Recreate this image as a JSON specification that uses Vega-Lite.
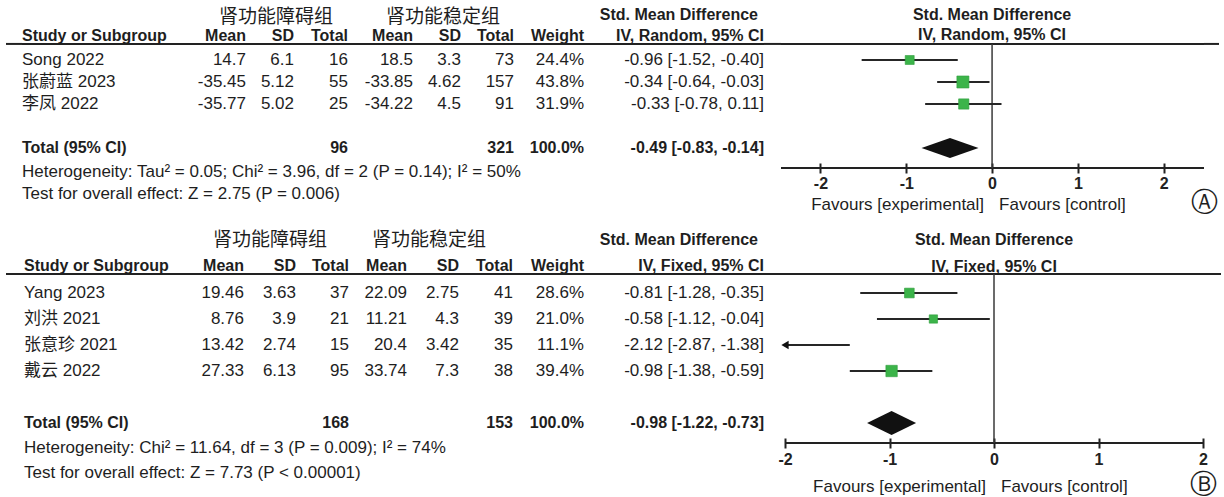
{
"$schema": "https://vega.github.io/schema/vega-lite/v6.json",
"padding": {"left": 5, "top": 0, "right": 0, "bottom": 0},
"background": "white",
"datasets": {
 "A": [
  {"row": 1, "study": "Song 2022", "m1": 14.7, "sd1": 6.1, "n1": 16, "m2": 18.5, "sd2": 3.3, "n2": 73, "w": 0.244, "ci": "-0.96 [-1.52, -0.40]", "smd": -0.96, "lo": -1.52, "hi": -0.40, "total": false},
  {"row": 2, "study": "张蔚蓝 2023", "m1": -35.45, "sd1": 5.12, "n1": 55, "m2": -33.85, "sd2": 4.62, "n2": 157, "w": 0.438, "ci": "-0.34 [-0.64, -0.03]", "smd": -0.34, "lo": -0.64, "hi": -0.03, "total": false},
  {"row": 3, "study": "李凤 2022", "m1": -35.77, "sd1": 5.02, "n1": 25, "m2": -34.22, "sd2": 4.5, "n2": 91, "w": 0.319, "ci": "-0.33 [-0.78, 0.11]", "smd": -0.33, "lo": -0.78, "hi": 0.11, "total": false},
  {"row": 5, "study": "Total (95% CI)", "n1": 96, "n2": 321, "w": 1.0, "ci": "-0.49 [-0.83, -0.14]", "smd": -0.49, "lo": -0.83, "hi": -0.14, "total": true}
 ],
 "B": [
  {"row": 1, "study": "Yang 2023", "m1": 19.46, "sd1": 3.63, "n1": 37, "m2": 22.09, "sd2": 2.75, "n2": 41, "w": 0.286, "ci": "-0.81 [-1.28, -0.35]", "smd": -0.81, "lo": -1.28, "hi": -0.35, "total": false},
  {"row": 2, "study": "刘洪 2021", "m1": 8.76, "sd1": 3.9, "n1": 21, "m2": 11.21, "sd2": 4.3, "n2": 39, "w": 0.21, "ci": "-0.58 [-1.12, -0.04]", "smd": -0.58, "lo": -1.12, "hi": -0.04, "total": false},
  {"row": 3, "study": "张意珍 2021", "m1": 13.42, "sd1": 2.74, "n1": 15, "m2": 20.4, "sd2": 3.42, "n2": 35, "w": 0.111, "ci": "-2.12 [-2.87, -1.38]", "smd": -2.12, "lo": -2.87, "hi": -1.38, "total": false},
  {"row": 4, "study": "戴云 2022", "m1": 27.33, "sd1": 6.13, "n1": 95, "m2": 33.74, "sd2": 7.3, "n2": 38, "w": 0.394, "ci": "-0.98 [-1.38, -0.59]", "smd": -0.98, "lo": -1.38, "hi": -0.59, "total": false},
  {"row": 6, "study": "Total (95% CI)", "n1": 168, "n2": 153, "w": 1.0, "ci": "-0.98 [-1.22, -0.73]", "smd": -0.98, "lo": -1.22, "hi": -0.73, "total": true}
 ]
},
"vconcat": [
 {"hconcat": [
  {"width": 16, "height": 222, "data": {"values": [{}]}, "mark": "rule", "encoding": {"y": {"datum": 0.27, "scale": {"domain": [-1.727, 8.364], "reverse": true, "nice": false, "zero": false}, "axis": null}}},
  {"width": 179, "height": 222, "data": {"name": "A"},
   "encoding": {"y": {"field": "row", "type": "quantitative", "scale": {"domain": [-1.727, 8.364], "reverse": true, "nice": false, "zero": false}, "axis": null}},
   "layer": [
    {"transform": [{"filter": "datum.row == 1"}], "mark": "rule", "encoding": {"y": {"datum": 0.27}}},
    {"transform": [{"filter": "datum.row == 1"}], "mark": {"type": "text", "align": "left", "fontWeight": "bold", "fontSize": 16}, "encoding": {"x": {"value": 0}, "y": {"datum": -0.1}, "text": {"value": "Study or Subgroup"}}},
    {"transform": [{"filter": "!datum.total"}], "mark": {"type": "text", "align": "left"}, "encoding": {"x": {"value": 0}, "text": {"field": "study", "type": "nominal"}}},
    {"transform": [{"filter": "datum.total"}], "mark": {"type": "text", "align": "left", "fontWeight": "bold", "fontSize": 16}, "encoding": {"x": {"value": 0}, "text": {"field": "study", "type": "nominal"}}},
    {"transform": [{"filter": "datum.row == 1"}], "mark": {"type": "text", "align": "left"}, "encoding": {"x": {"value": 0}, "y": {"datum": 6.09}, "text": {"value": "Heterogeneity: Tau² = 0.05; Chi² = 3.96, df = 2 (P = 0.14); I² = 50%"}}},
    {"transform": [{"filter": "datum.row == 1"}], "mark": {"type": "text", "align": "left"}, "encoding": {"x": {"value": 0}, "y": {"datum": 7.09}, "text": {"value": "Test for overall effect: Z = 2.75 (P = 0.006)"}}}
   ]},
  {"width": 45, "height": 222, "data": {"name": "A"},
   "encoding": {"y": {"field": "row", "type": "quantitative", "scale": {"domain": [-1.727, 8.364], "reverse": true, "nice": false, "zero": false}, "axis": null}},
   "layer": [
    {"transform": [{"filter": "datum.row == 1"}], "mark": "rule", "encoding": {"y": {"datum": 0.27}}},
    {"transform": [{"filter": "datum.row == 1"}], "mark": {"type": "text", "align": "right", "fontWeight": "bold", "fontSize": 16}, "encoding": {"x": {"value": "width"}, "y": {"datum": -0.1}, "text": {"value": "Mean"}}},
    {"transform": [{"filter": "!datum.total"}], "mark": {"type": "text", "align": "right"}, "encoding": {"x": {"value": "width"}, "text": {"field": "m1", "type": "nominal"}}}
   ]},
  {"width": 48, "height": 222, "data": {"name": "A"},
   "encoding": {"y": {"field": "row", "type": "quantitative", "scale": {"domain": [-1.727, 8.364], "reverse": true, "nice": false, "zero": false}, "axis": null}},
   "layer": [
    {"transform": [{"filter": "datum.row == 1"}], "mark": "rule", "encoding": {"y": {"datum": 0.27}}},
    {"transform": [{"filter": "datum.row == 1"}], "mark": {"type": "text", "fontSize": 19, "dx": 6}, "encoding": {"y": {"datum": -0.95}, "text": {"value": "肾功能障碍组"}}},
    {"transform": [{"filter": "datum.row == 1"}], "mark": {"type": "text", "align": "right", "fontWeight": "bold", "fontSize": 16}, "encoding": {"x": {"value": "width"}, "y": {"datum": -0.1}, "text": {"value": "SD"}}},
    {"transform": [{"filter": "!datum.total"}], "mark": {"type": "text", "align": "right"}, "encoding": {"x": {"value": "width"}, "text": {"field": "sd1", "type": "nominal"}}}
   ]},
  {"width": 54, "height": 222, "data": {"name": "A"},
   "encoding": {"y": {"field": "row", "type": "quantitative", "scale": {"domain": [-1.727, 8.364], "reverse": true, "nice": false, "zero": false}, "axis": null}},
   "layer": [
    {"transform": [{"filter": "datum.row == 1"}], "mark": "rule", "encoding": {"y": {"datum": 0.27}}},
    {"transform": [{"filter": "datum.row == 1"}], "mark": {"type": "text", "align": "right", "fontWeight": "bold", "fontSize": 16}, "encoding": {"x": {"value": "width"}, "y": {"datum": -0.1}, "text": {"value": "Total"}}},
    {"transform": [{"filter": "!datum.total"}], "mark": {"type": "text", "align": "right"}, "encoding": {"x": {"value": "width"}, "text": {"field": "n1", "type": "nominal"}}},
    {"transform": [{"filter": "datum.total"}], "mark": {"type": "text", "align": "right", "fontWeight": "bold", "fontSize": 16}, "encoding": {"x": {"value": "width"}, "text": {"field": "n1", "type": "nominal"}}}
   ]},
  {"width": 65, "height": 222, "data": {"name": "A"},
   "encoding": {"y": {"field": "row", "type": "quantitative", "scale": {"domain": [-1.727, 8.364], "reverse": true, "nice": false, "zero": false}, "axis": null}},
   "layer": [
    {"transform": [{"filter": "datum.row == 1"}], "mark": "rule", "encoding": {"y": {"datum": 0.27}}},
    {"transform": [{"filter": "datum.row == 1"}], "mark": {"type": "text", "align": "right", "fontWeight": "bold", "fontSize": 16}, "encoding": {"x": {"value": "width"}, "y": {"datum": -0.1}, "text": {"value": "Mean"}}},
    {"transform": [{"filter": "!datum.total"}], "mark": {"type": "text", "align": "right"}, "encoding": {"x": {"value": "width"}, "text": {"field": "m2", "type": "nominal"}}}
   ]},
  {"width": 48, "height": 222, "data": {"name": "A"},
   "encoding": {"y": {"field": "row", "type": "quantitative", "scale": {"domain": [-1.727, 8.364], "reverse": true, "nice": false, "zero": false}, "axis": null}},
   "layer": [
    {"transform": [{"filter": "datum.row == 1"}], "mark": "rule", "encoding": {"y": {"datum": 0.27}}},
    {"transform": [{"filter": "datum.row == 1"}], "mark": {"type": "text", "fontSize": 19, "dx": 6}, "encoding": {"y": {"datum": -0.95}, "text": {"value": "肾功能稳定组"}}},
    {"transform": [{"filter": "datum.row == 1"}], "mark": {"type": "text", "align": "right", "fontWeight": "bold", "fontSize": 16}, "encoding": {"x": {"value": "width"}, "y": {"datum": -0.1}, "text": {"value": "SD"}}},
    {"transform": [{"filter": "!datum.total"}], "mark": {"type": "text", "align": "right"}, "encoding": {"x": {"value": "width"}, "text": {"field": "sd2", "type": "nominal"}}}
   ]},
  {"width": 53, "height": 222, "data": {"name": "A"},
   "encoding": {"y": {"field": "row", "type": "quantitative", "scale": {"domain": [-1.727, 8.364], "reverse": true, "nice": false, "zero": false}, "axis": null}},
   "layer": [
    {"transform": [{"filter": "datum.row == 1"}], "mark": "rule", "encoding": {"y": {"datum": 0.27}}},
    {"transform": [{"filter": "datum.row == 1"}], "mark": {"type": "text", "align": "right", "fontWeight": "bold", "fontSize": 16}, "encoding": {"x": {"value": "width"}, "y": {"datum": -0.1}, "text": {"value": "Total"}}},
    {"transform": [{"filter": "!datum.total"}], "mark": {"type": "text", "align": "right"}, "encoding": {"x": {"value": "width"}, "text": {"field": "n2", "type": "nominal"}}},
    {"transform": [{"filter": "datum.total"}], "mark": {"type": "text", "align": "right", "fontWeight": "bold", "fontSize": 16}, "encoding": {"x": {"value": "width"}, "text": {"field": "n2", "type": "nominal"}}}
   ]},
  {"width": 70, "height": 222, "data": {"name": "A"},
   "encoding": {"y": {"field": "row", "type": "quantitative", "scale": {"domain": [-1.727, 8.364], "reverse": true, "nice": false, "zero": false}, "axis": null}},
   "layer": [
    {"transform": [{"filter": "datum.row == 1"}], "mark": "rule", "encoding": {"y": {"datum": 0.27}}},
    {"transform": [{"filter": "datum.row == 1"}], "mark": {"type": "text", "align": "right", "fontWeight": "bold", "fontSize": 16}, "encoding": {"x": {"value": "width"}, "y": {"datum": -0.1}, "text": {"value": "Weight"}}},
    {"transform": [{"filter": "!datum.total"}], "mark": {"type": "text", "align": "right"}, "encoding": {"x": {"value": "width"}, "text": {"field": "w", "type": "quantitative", "format": ".1%"}}},
    {"transform": [{"filter": "datum.total"}], "mark": {"type": "text", "align": "right", "fontWeight": "bold", "fontSize": 16}, "encoding": {"x": {"value": "width"}, "text": {"field": "w", "type": "quantitative", "format": ".1%"}}}
   ]},
  {"width": 180, "height": 222, "data": {"name": "A"},
   "encoding": {"y": {"field": "row", "type": "quantitative", "scale": {"domain": [-1.727, 8.364], "reverse": true, "nice": false, "zero": false}, "axis": null}},
   "layer": [
    {"transform": [{"filter": "datum.row == 1"}], "mark": "rule", "encoding": {"y": {"datum": 0.27}}},
    {"transform": [{"filter": "datum.row == 1"}], "mark": {"type": "text", "align": "right", "fontWeight": "bold", "fontSize": 16, "dx": -6}, "encoding": {"x": {"value": "width"}, "y": {"datum": -1.05}, "text": {"value": "Std. Mean Difference"}}},
    {"transform": [{"filter": "datum.row == 1"}], "mark": {"type": "text", "align": "right", "fontWeight": "bold", "fontSize": 16}, "encoding": {"x": {"value": "width"}, "y": {"datum": -0.1}, "text": {"value": "IV, Random, 95% CI"}}},
    {"transform": [{"filter": "!datum.total"}], "mark": {"type": "text", "align": "right"}, "encoding": {"x": {"value": "width"}, "text": {"field": "ci", "type": "nominal"}}},
    {"transform": [{"filter": "datum.total"}], "mark": {"type": "text", "align": "right", "fontWeight": "bold", "fontSize": 16}, "encoding": {"x": {"value": "width"}, "text": {"field": "ci", "type": "nominal"}}}
   ]},
  {"width": 17, "height": 222, "data": {"values": [{}]}, "mark": "rule", "encoding": {"y": {"datum": 0.27, "scale": {"domain": [-1.727, 8.364], "reverse": true, "nice": false, "zero": false}, "axis": null}}},
  {"width": 423, "height": 163, "data": {"name": "A"},
   "encoding": {"y": {"field": "row", "type": "quantitative", "scale": {"domain": [-1.727, 5.682], "reverse": true, "nice": false, "zero": false}, "axis": null}},
   "layer": [
    {"transform": [{"filter": "datum.row == 1"}], "mark": "rule", "encoding": {"y": {"datum": 0.27}}},
    {"transform": [{"filter": "datum.row == 1"}], "mark": "rule", "encoding": {"y": {"datum": 5.909}}},
    {"transform": [{"filter": "datum.row == 1"}], "mark": {"type": "rule", "strokeWidth": 1.5, "color": "#3a3a3a"}, "encoding": {"x": {"datum": 0, "type": "quantitative", "title": null}, "y": {"datum": 0.27}, "y2": {"datum": 5.909}}},
    {"transform": [{"filter": "!datum.total"}], "mark": {"type": "rule", "strokeWidth": 2, "color": "#262626"},
     "encoding": {"x": {"field": "lo", "type": "quantitative", "title": null, "scale": {"domain": [-2.46, 2.47], "nice": false, "zero": false},
       "axis": {"values": [-2, -1, 0, 1, 2], "labelExpr": "datum.value", "title": null, "grid": false, "domain": false, "tickSize": 10, "tickWidth": 2, "tickColor": "#222", "labelFontSize": 16, "labelFont": "Liberation Sans", "labelFontWeight": "bold", "labelColor": "#222", "labelPadding": 2, "labelFlush": false, "labelOverlap": false}},
      "x2": {"field": "hi"}}},
    {"transform": [{"filter": "!datum.total"}], "mark": {"type": "square", "filled": true, "color": "#3cb44a", "stroke": "#2f9e3d", "strokeWidth": 0.6, "opacity": 1},
     "encoding": {"x": {"field": "smd", "type": "quantitative", "title": null}, "size": {"field": "w", "type": "quantitative", "scale": {"domain": [0, 0.5], "range": [0, 165]}, "legend": null}}},
    {"transform": [{"filter": "datum.total"}], "mark": {"type": "point", "shape": "M-1,0L0,-0.35L1,0L0,0.35Z", "size": 3249, "filled": true, "color": "#111111", "opacity": 1},
     "encoding": {"x": {"field": "smd", "type": "quantitative", "title": null}}},
    {"transform": [{"filter": "datum.row == 1"}], "mark": {"type": "text", "fontWeight": "bold", "fontSize": 16}, "encoding": {"x": {"datum": 0}, "y": {"datum": -1.05}, "text": {"value": "Std. Mean Difference"}}},
    {"transform": [{"filter": "datum.row == 1"}], "mark": {"type": "text", "fontWeight": "bold", "fontSize": 16}, "encoding": {"x": {"datum": 0}, "y": {"datum": -0.14}, "text": {"value": "IV, Random, 95% CI"}}},
    {"transform": [{"filter": "datum.row == 1"}], "mark": {"type": "text", "align": "right", "dx": -8}, "encoding": {"x": {"datum": 0}, "y": {"datum": 7.59}, "text": {"value": "Favours [experimental]"}}},
    {"transform": [{"filter": "datum.row == 1"}], "mark": {"type": "text", "align": "left", "dx": 7}, "encoding": {"x": {"datum": 0}, "y": {"datum": 7.59}, "text": {"value": "Favours [control]"}}},
    {"transform": [{"filter": "datum.row == 1"}], "mark": {"type": "text", "font": "DejaVu Sans", "fontSize": 27}, "encoding": {"x": {"datum": 2.47}, "y": {"datum": 7.5}, "text": {"value": "Ⓐ"}}}
   ]},
  {"width": 15, "height": 222, "data": {"values": [{}]}, "mark": "rule", "encoding": {"y": {"datum": 0.27, "scale": {"domain": [-1.727, 8.364], "reverse": true, "nice": false, "zero": false}, "axis": null}}}
 ], "spacing": 0, "bounds": "flush"},
 {"hconcat": [
  {"width": 18, "height": 275, "data": {"values": [{}]}, "mark": "rule", "encoding": {"y": {"datum": 0.27, "scale": {"domain": [-1.731, 8.846], "reverse": true, "nice": false, "zero": false}, "axis": null}}},
  {"width": 177, "height": 275, "data": {"name": "B"},
   "encoding": {"y": {"field": "row", "type": "quantitative", "scale": {"domain": [-1.731, 8.846], "reverse": true, "nice": false, "zero": false}, "axis": null}},
   "layer": [
    {"transform": [{"filter": "datum.row == 1"}], "mark": "rule", "encoding": {"y": {"datum": 0.27}}},
    {"transform": [{"filter": "datum.row == 1"}], "mark": {"type": "text", "align": "left", "fontWeight": "bold", "fontSize": 16}, "encoding": {"x": {"value": 0}, "y": {"datum": -0.02}, "text": {"value": "Study or Subgroup"}}},
    {"transform": [{"filter": "!datum.total"}], "mark": {"type": "text", "align": "left"}, "encoding": {"x": {"value": 0}, "text": {"field": "study", "type": "nominal"}}},
    {"transform": [{"filter": "datum.total"}], "mark": {"type": "text", "align": "left", "fontWeight": "bold", "fontSize": 16}, "encoding": {"x": {"value": 0}, "text": {"field": "study", "type": "nominal"}}},
    {"transform": [{"filter": "datum.row == 1"}], "mark": {"type": "text", "align": "left"}, "encoding": {"x": {"value": 0}, "y": {"datum": 6.96}, "text": {"value": "Heterogeneity: Chi² = 11.64, df = 3 (P = 0.009); I² = 74%"}}},
    {"transform": [{"filter": "datum.row == 1"}], "mark": {"type": "text", "align": "left"}, "encoding": {"x": {"value": 0}, "y": {"datum": 7.92}, "text": {"value": "Test for overall effect: Z = 7.73 (P < 0.00001)"}}}
   ]},
  {"width": 43, "height": 275, "data": {"name": "B"},
   "encoding": {"y": {"field": "row", "type": "quantitative", "scale": {"domain": [-1.731, 8.846], "reverse": true, "nice": false, "zero": false}, "axis": null}},
   "layer": [
    {"transform": [{"filter": "datum.row == 1"}], "mark": "rule", "encoding": {"y": {"datum": 0.27}}},
    {"transform": [{"filter": "datum.row == 1"}], "mark": {"type": "text", "align": "right", "fontWeight": "bold", "fontSize": 16}, "encoding": {"x": {"value": "width"}, "y": {"datum": -0.02}, "text": {"value": "Mean"}}},
    {"transform": [{"filter": "!datum.total"}], "mark": {"type": "text", "align": "right"}, "encoding": {"x": {"value": "width"}, "text": {"field": "m1", "type": "nominal"}}}
   ]},
  {"width": 52, "height": 275, "data": {"name": "B"},
   "encoding": {"y": {"field": "row", "type": "quantitative", "scale": {"domain": [-1.731, 8.846], "reverse": true, "nice": false, "zero": false}, "axis": null}},
   "layer": [
    {"transform": [{"filter": "datum.row == 1"}], "mark": "rule", "encoding": {"y": {"datum": 0.27}}},
    {"transform": [{"filter": "datum.row == 1"}], "mark": {"type": "text", "fontSize": 19}, "encoding": {"y": {"datum": -1.04}, "text": {"value": "肾功能障碍组"}}},
    {"transform": [{"filter": "datum.row == 1"}], "mark": {"type": "text", "align": "right", "fontWeight": "bold", "fontSize": 16}, "encoding": {"x": {"value": "width"}, "y": {"datum": -0.02}, "text": {"value": "SD"}}},
    {"transform": [{"filter": "!datum.total"}], "mark": {"type": "text", "align": "right"}, "encoding": {"x": {"value": "width"}, "text": {"field": "sd1", "type": "nominal"}}}
   ]},
  {"width": 53, "height": 275, "data": {"name": "B"},
   "encoding": {"y": {"field": "row", "type": "quantitative", "scale": {"domain": [-1.731, 8.846], "reverse": true, "nice": false, "zero": false}, "axis": null}},
   "layer": [
    {"transform": [{"filter": "datum.row == 1"}], "mark": "rule", "encoding": {"y": {"datum": 0.27}}},
    {"transform": [{"filter": "datum.row == 1"}], "mark": {"type": "text", "align": "right", "fontWeight": "bold", "fontSize": 16}, "encoding": {"x": {"value": "width"}, "y": {"datum": -0.02}, "text": {"value": "Total"}}},
    {"transform": [{"filter": "!datum.total"}], "mark": {"type": "text", "align": "right"}, "encoding": {"x": {"value": "width"}, "text": {"field": "n1", "type": "nominal"}}},
    {"transform": [{"filter": "datum.total"}], "mark": {"type": "text", "align": "right", "fontWeight": "bold", "fontSize": 16}, "encoding": {"x": {"value": "width"}, "text": {"field": "n1", "type": "nominal"}}}
   ]},
  {"width": 58, "height": 275, "data": {"name": "B"},
   "encoding": {"y": {"field": "row", "type": "quantitative", "scale": {"domain": [-1.731, 8.846], "reverse": true, "nice": false, "zero": false}, "axis": null}},
   "layer": [
    {"transform": [{"filter": "datum.row == 1"}], "mark": "rule", "encoding": {"y": {"datum": 0.27}}},
    {"transform": [{"filter": "datum.row == 1"}], "mark": {"type": "text", "align": "right", "fontWeight": "bold", "fontSize": 16}, "encoding": {"x": {"value": "width"}, "y": {"datum": -0.02}, "text": {"value": "Mean"}}},
    {"transform": [{"filter": "!datum.total"}], "mark": {"type": "text", "align": "right"}, "encoding": {"x": {"value": "width"}, "text": {"field": "m2", "type": "nominal"}}}
   ]},
  {"width": 52, "height": 275, "data": {"name": "B"},
   "encoding": {"y": {"field": "row", "type": "quantitative", "scale": {"domain": [-1.731, 8.846], "reverse": true, "nice": false, "zero": false}, "axis": null}},
   "layer": [
    {"transform": [{"filter": "datum.row == 1"}], "mark": "rule", "encoding": {"y": {"datum": 0.27}}},
    {"transform": [{"filter": "datum.row == 1"}], "mark": {"type": "text", "fontSize": 19, "dx": -4}, "encoding": {"y": {"datum": -1.04}, "text": {"value": "肾功能稳定组"}}},
    {"transform": [{"filter": "datum.row == 1"}], "mark": {"type": "text", "align": "right", "fontWeight": "bold", "fontSize": 16}, "encoding": {"x": {"value": "width"}, "y": {"datum": -0.02}, "text": {"value": "SD"}}},
    {"transform": [{"filter": "!datum.total"}], "mark": {"type": "text", "align": "right"}, "encoding": {"x": {"value": "width"}, "text": {"field": "sd2", "type": "nominal"}}}
   ]},
  {"width": 54, "height": 275, "data": {"name": "B"},
   "encoding": {"y": {"field": "row", "type": "quantitative", "scale": {"domain": [-1.731, 8.846], "reverse": true, "nice": false, "zero": false}, "axis": null}},
   "layer": [
    {"transform": [{"filter": "datum.row == 1"}], "mark": "rule", "encoding": {"y": {"datum": 0.27}}},
    {"transform": [{"filter": "datum.row == 1"}], "mark": {"type": "text", "align": "right", "fontWeight": "bold", "fontSize": 16}, "encoding": {"x": {"value": "width"}, "y": {"datum": -0.02}, "text": {"value": "Total"}}},
    {"transform": [{"filter": "!datum.total"}], "mark": {"type": "text", "align": "right"}, "encoding": {"x": {"value": "width"}, "text": {"field": "n2", "type": "nominal"}}},
    {"transform": [{"filter": "datum.total"}], "mark": {"type": "text", "align": "right", "fontWeight": "bold", "fontSize": 16}, "encoding": {"x": {"value": "width"}, "text": {"field": "n2", "type": "nominal"}}}
   ]},
  {"width": 71, "height": 275, "data": {"name": "B"},
   "encoding": {"y": {"field": "row", "type": "quantitative", "scale": {"domain": [-1.731, 8.846], "reverse": true, "nice": false, "zero": false}, "axis": null}},
   "layer": [
    {"transform": [{"filter": "datum.row == 1"}], "mark": "rule", "encoding": {"y": {"datum": 0.27}}},
    {"transform": [{"filter": "datum.row == 1"}], "mark": {"type": "text", "align": "right", "fontWeight": "bold", "fontSize": 16}, "encoding": {"x": {"value": "width"}, "y": {"datum": -0.02}, "text": {"value": "Weight"}}},
    {"transform": [{"filter": "!datum.total"}], "mark": {"type": "text", "align": "right"}, "encoding": {"x": {"value": "width"}, "text": {"field": "w", "type": "quantitative", "format": ".1%"}}},
    {"transform": [{"filter": "datum.total"}], "mark": {"type": "text", "align": "right", "fontWeight": "bold", "fontSize": 16}, "encoding": {"x": {"value": "width"}, "text": {"field": "w", "type": "quantitative", "format": ".1%"}}}
   ]},
  {"width": 180, "height": 275, "data": {"name": "B"},
   "encoding": {"y": {"field": "row", "type": "quantitative", "scale": {"domain": [-1.731, 8.846], "reverse": true, "nice": false, "zero": false}, "axis": null}},
   "layer": [
    {"transform": [{"filter": "datum.row == 1"}], "mark": "rule", "encoding": {"y": {"datum": 0.27}}},
    {"transform": [{"filter": "datum.row == 1"}], "mark": {"type": "text", "align": "right", "fontWeight": "bold", "fontSize": 16, "dx": -6}, "encoding": {"x": {"value": "width"}, "y": {"datum": -1.04}, "text": {"value": "Std. Mean Difference"}}},
    {"transform": [{"filter": "datum.row == 1"}], "mark": {"type": "text", "align": "right", "fontWeight": "bold", "fontSize": 16}, "encoding": {"x": {"value": "width"}, "y": {"datum": -0.02}, "text": {"value": "IV, Fixed, 95% CI"}}},
    {"transform": [{"filter": "!datum.total"}], "mark": {"type": "text", "align": "right"}, "encoding": {"x": {"value": "width"}, "text": {"field": "ci", "type": "nominal"}}},
    {"transform": [{"filter": "datum.total"}], "mark": {"type": "text", "align": "right", "fontWeight": "bold", "fontSize": 16}, "encoding": {"x": {"value": "width"}, "text": {"field": "ci", "type": "nominal"}}}
   ]},
  {"width": 21, "height": 275, "data": {"values": [{}]}, "mark": "rule", "encoding": {"y": {"datum": 0.27, "scale": {"domain": [-1.731, 8.846], "reverse": true, "nice": false, "zero": false}, "axis": null}}},
  {"width": 418, "height": 216, "data": {"name": "B"},
   "encoding": {"y": {"field": "row", "type": "quantitative", "scale": {"domain": [-1.731, 6.577], "reverse": true, "nice": false, "zero": false}, "axis": null}},
   "layer": [
    {"transform": [{"filter": "datum.row == 1"}], "mark": "rule", "encoding": {"y": {"datum": 0.27}}},
    {"transform": [{"filter": "datum.row == 1"}], "mark": "rule", "encoding": {"y": {"datum": 6.769}}},
    {"transform": [{"filter": "datum.row == 1"}], "mark": {"type": "rule", "strokeWidth": 1.5, "color": "#3a3a3a"}, "encoding": {"x": {"datum": 0, "type": "quantitative", "title": null}, "y": {"datum": 0.27}, "y2": {"datum": 6.769}}},
    {"transform": [{"filter": "!datum.total"}], "mark": {"type": "rule", "strokeWidth": 2, "color": "#262626"},
     "encoding": {"x": {"field": "lo", "type": "quantitative", "title": null, "scale": {"domain": [-2, 2], "nice": false, "zero": false, "clamp": true},
       "axis": {"values": [-2, -1, 0, 1, 2], "labelExpr": "datum.value", "title": null, "grid": false, "domain": false, "tickSize": 10, "tickWidth": 2, "tickColor": "#222", "labelFontSize": 16, "labelFont": "Liberation Sans", "labelFontWeight": "bold", "labelColor": "#222", "labelPadding": 3, "labelFlush": false, "labelOverlap": false}},
      "x2": {"field": "hi"}}},
    {"transform": [{"filter": "!datum.total && datum.smd >= -2"}], "mark": {"type": "square", "filled": true, "color": "#3cb44a", "stroke": "#2f9e3d", "strokeWidth": 0.6, "opacity": 1},
     "encoding": {"x": {"field": "smd", "type": "quantitative", "title": null}, "size": {"field": "w", "type": "quantitative", "scale": {"domain": [0, 0.5], "range": [0, 165]}, "legend": null}}},
    {"transform": [{"filter": "datum.lo < -2"}], "mark": {"type": "point", "shape": "triangle-left", "size": 70, "filled": true, "color": "#111111", "opacity": 1},
     "encoding": {"x": {"field": "lo", "type": "quantitative", "title": null}}},
    {"transform": [{"filter": "datum.total"}], "mark": {"type": "point", "shape": "M-1,0L0,-0.49L1,0L0,0.49Z", "size": 2401, "filled": true, "color": "#111111", "opacity": 1},
     "encoding": {"x": {"field": "smd", "type": "quantitative", "title": null}}},
    {"transform": [{"filter": "datum.row == 1"}], "mark": {"type": "text", "fontWeight": "bold", "fontSize": 16}, "encoding": {"x": {"datum": 0}, "y": {"datum": -1.04}, "text": {"value": "Std. Mean Difference"}}},
    {"transform": [{"filter": "datum.row == 1"}], "mark": {"type": "text", "fontWeight": "bold", "fontSize": 16}, "encoding": {"x": {"datum": 0}, "y": {"datum": 0}, "text": {"value": "IV, Fixed, 95% CI"}}},
    {"transform": [{"filter": "datum.row == 1"}], "mark": {"type": "text", "align": "right", "dx": -8}, "encoding": {"x": {"datum": 0}, "y": {"datum": 8.46}, "text": {"value": "Favours [experimental]"}}},
    {"transform": [{"filter": "datum.row == 1"}], "mark": {"type": "text", "align": "left", "dx": 7}, "encoding": {"x": {"datum": 0}, "y": {"datum": 8.46}, "text": {"value": "Favours [control]"}}},
    {"transform": [{"filter": "datum.row == 1"}], "mark": {"type": "text", "font": "DejaVu Sans", "fontSize": 27}, "encoding": {"x": {"datum": 2}, "y": {"datum": 8.4}, "text": {"value": "Ⓑ"}}}
   ]},
  {"width": 18, "height": 275, "data": {"values": [{}]}, "mark": "rule", "encoding": {"y": {"datum": 0.27, "scale": {"domain": [-1.731, 8.846], "reverse": true, "nice": false, "zero": false}, "axis": null}}}
 ], "spacing": 0, "bounds": "flush"}
],
"spacing": 0,
"config": {
 "view": {"stroke": null},
 "text": {"font": "Liberation Sans, Noto Sans CJK SC", "fontSize": 17, "color": "#1e1e1e"},
 "rule": {"color": "#222222", "strokeWidth": 2}
}
}
